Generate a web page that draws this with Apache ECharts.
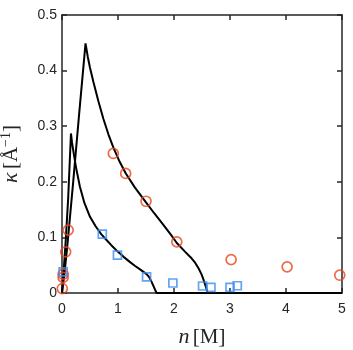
<!DOCTYPE html>
<html><head><meta charset="utf-8">
<script src="https://cdn.jsdelivr.net/npm/echarts@6/dist/echarts.min.js"></script>
<style>html,body{margin:0;padding:0;background:#fff}#c{width:353px;height:350px}</style>
</head><body><div id="c"></div>
<script>
var xTicks = [0,1,2,3,4,5];
var yTicks = [0,0.1,0.2,0.3,0.4,0.5];
var redX = [0.005,0.02,0.02,0.066,0.11,0.916,1.137,1.5,2.05,3.02,4.02,4.96];
var redY = [0.008,0.028,0.034,0.074,0.113,0.251,0.215,0.165,0.092,0.060,0.047,0.032];
var blueX = [0.02,0.72,0.99,1.51,1.98,2.51,2.66,3.0,3.13];
var blueY = [0.038,0.106,0.068,0.029,0.018,0.0126,0.010,0.010,0.013];
var curveAX = [0,0.03,0.07,0.11,0.16,0.18,0.2,0.25,0.32,0.4,0.5,0.6,0.7,0.77,0.88,1.0,1.1,1.21,1.3,1.4,1.51,1.56,1.6,1.64,1.67,1.69,5];
var curveAY = [0,0.04,0.1,0.17,0.287,0.27,0.257,0.226,0.191,0.162,0.137,0.12,0.106,0.098,0.086,0.074,0.065,0.056,0.049,0.042,0.034,0.028,0.02,0.011,0.004,0,0];
var curveBX = [0,0.05,0.1,0.2,0.3,0.42,0.46,0.5,0.56,0.65,0.74,0.83,0.92,1.03,1.14,1.3,1.5,1.65,1.8,1.95,2.05,2.2,2.3,2.38,2.44,2.49,2.53,2.57,2.6,5];
var curveBY = [0,0.04,0.09,0.2,0.315,0.449,0.425,0.405,0.38,0.345,0.313,0.285,0.261,0.236,0.215,0.19,0.163,0.143,0.124,0.104,0.09,0.074,0.064,0.054,0.044,0.034,0.023,0.011,0,0];

function zip(a,b){return a.map(function(v,i){return [v,b[i]];});}
var axisCol = '#262626';
var chart = echarts.init(document.getElementById('c'));
var baseX = {type:'value',min:0,max:5,interval:1,
  axisLine:{show:true,onZero:false,lineStyle:{color:axisCol,width:1.5}},
  axisTick:{show:true,inside:true,length:5,lineStyle:{color:axisCol,width:1.5}},
  splitLine:{show:false}};
var baseY = {type:'value',min:0,max:0.5,interval:0.1,
  axisLine:{show:true,onZero:false,lineStyle:{color:axisCol,width:1.5}},
  axisTick:{show:true,inside:true,length:5,lineStyle:{color:axisCol,width:1.5}},
  splitLine:{show:false}};
var lineBase = {type:'line',showSymbol:false,symbol:'none',lineStyle:{color:'#000',width:2},z:3};
chart.setOption({
  animation:false,
  grid:{left:62,right:11,top:15,bottom:57,containLabel:false,outerBoundsMode:'none'},
  xAxis:[
    Object.assign({},baseX,{position:'bottom',
      axisLabel:{color:'#262626',fontSize:14,fontFamily:'Liberation Sans',margin:9,
        formatter:function(v){return String(v);}},
      name:'{i|n} {r|[M]}',nameLocation:'middle',nameGap:33,
      nameTextStyle:{rich:{i:{fontFamily:'Liberation Serif',fontStyle:'italic',fontSize:22,color:'#262626'},
        r:{fontFamily:'Liberation Serif',fontSize:21,color:'#262626'}}}}),
    Object.assign({},baseX,{position:'top',axisLabel:{show:false}})
  ],
  yAxis:[
    Object.assign({},baseY,{position:'left',
      axisLabel:{color:'#262626',fontSize:14,fontFamily:'Liberation Sans',margin:5,
        formatter:function(v){return v===0?'0':v.toFixed(1);}},
      name:'{i|κ} {r|[Å}{s|−1}{r|]}',nameLocation:'middle',nameGap:39,nameRotate:90,
      nameTextStyle:{rich:{i:{fontFamily:'Liberation Serif',fontStyle:'italic',fontSize:22,color:'#262626'},
        r:{fontFamily:'Liberation Serif',fontSize:21,color:'#262626'},
        s:{fontFamily:'Liberation Serif',fontSize:14,color:'#262626',verticalAlign:'top',padding:[0,0,10,0]}}}}),
    Object.assign({},baseY,{position:'right',axisLabel:{show:false}})
  ],
  series:[
    Object.assign({},lineBase,{data:zip(curveAX,curveAY)}),
    Object.assign({},lineBase,{data:zip(curveBX,curveBY)}),
    {type:'scatter',data:zip(redX,redY),symbol:'circle',symbolSize:10,
      itemStyle:{color:'rgba(0,0,0,0)',borderColor:'#e8451e',borderWidth:1.7},z:4},
    {type:'scatter',data:zip(blueX,blueY),symbol:'rect',symbolSize:8,
      itemStyle:{color:'rgba(0,0,0,0)',borderColor:'#3b8cf2',borderWidth:1.7},z:4}
  ]
});
</script></body></html>
